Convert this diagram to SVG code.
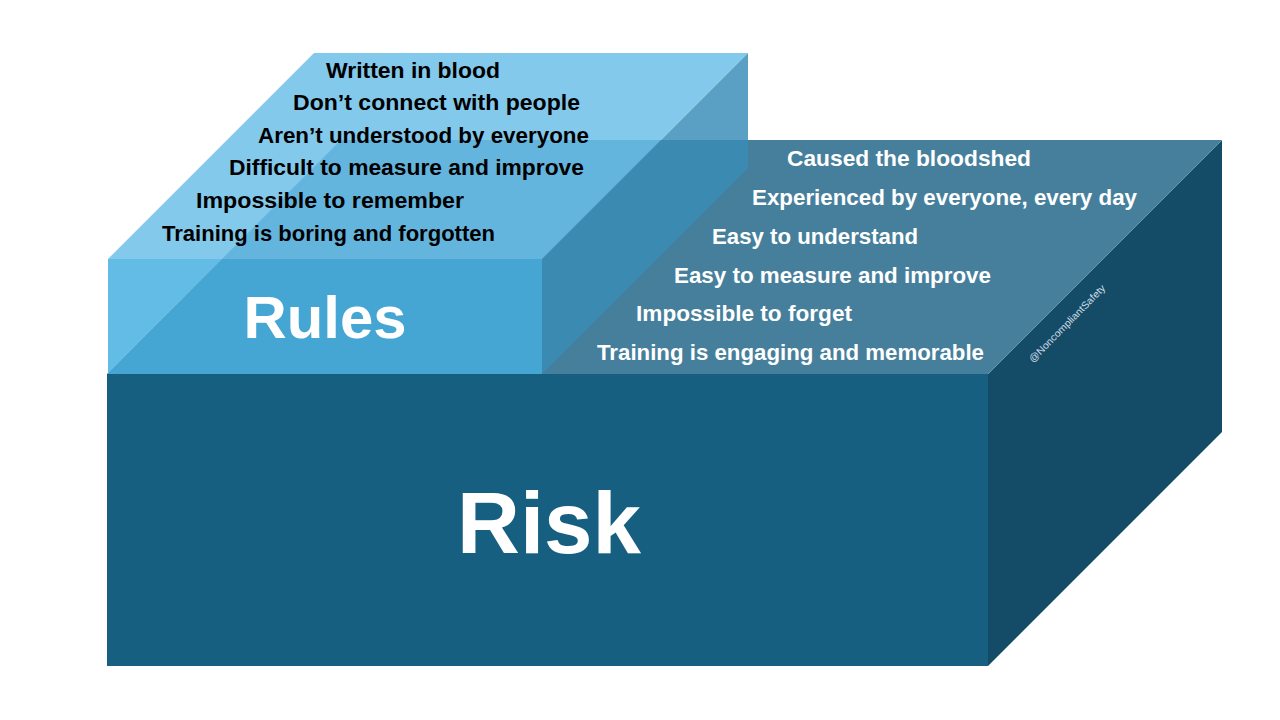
<svg xmlns="http://www.w3.org/2000/svg" width="1280" height="720" viewBox="0 0 1280 720">
<style>
.t{font-family:"Liberation Sans",Arial,sans-serif;font-weight:bold;font-size:22px}
.dk{fill:#000000}
.wt{fill:#ffffff}
.big{font-family:"Liberation Sans",Arial,sans-serif;font-weight:bold;fill:#ffffff}
</style>
<rect width="1280" height="720" fill="#ffffff"/>
<g id="risk">
<polygon points="107,374 988,374 988,666 107,666" fill="#175f80"/>
<polygon points="107,374 341,140 1222,140 988,374" fill="#467f9c"/>
<polygon points="988,374 1222,140 1222,432 988,666" fill="#144c68"/>
<line x1="988" y1="374" x2="1222" y2="140" stroke="#6f9cb4" stroke-width="0.8"/>
<text class="big" x="549" y="553" font-size="87" text-anchor="middle" textLength="184" lengthAdjust="spacingAndGlyphs">Risk</text>
</g>
<g id="rules">
<polygon points="108,259 314,53 748,53 542,259" fill="#83c9eb"/>
<polygon points="341,140 661,140 542,259 222,259" fill="#64b5de"/>
<polygon points="108,259 222,259 108,374" fill="#63bce6"/>
<polygon points="222,259 542,259 542,374 108,374" fill="#45a6d4"/>
<polygon points="661,140 748,53 748,140" fill="#5aa0c4"/>
<polygon points="542,259 661,140 748,140 748,168 542,374" fill="#3a8ab1"/>
<text class="big" x="325" y="338" font-size="60" text-anchor="middle" textLength="163" lengthAdjust="spacingAndGlyphs">Rules</text>
</g>
<g id="rules-text">
<text class="t dk" x="326" y="78" textLength="174" lengthAdjust="spacingAndGlyphs">Written in blood</text>
<text class="t dk" x="293" y="110" textLength="287" lengthAdjust="spacingAndGlyphs">Don’t connect with people</text>
<text class="t dk" x="258" y="143" textLength="331" lengthAdjust="spacingAndGlyphs">Aren’t understood by everyone</text>
<text class="t dk" x="229" y="175" textLength="355" lengthAdjust="spacingAndGlyphs">Difficult to measure and improve</text>
<text class="t dk" x="196" y="208" textLength="268" lengthAdjust="spacingAndGlyphs">Impossible to remember</text>
<text class="t dk" x="162" y="241" textLength="333" lengthAdjust="spacingAndGlyphs">Training is boring and forgotten</text>
</g>
<g id="risk-text">
<text class="t wt" x="787" y="166" textLength="244" lengthAdjust="spacingAndGlyphs">Caused the bloodshed</text>
<text class="t wt" x="752" y="205" textLength="385" lengthAdjust="spacingAndGlyphs">Experienced by everyone, every day</text>
<text class="t wt" x="712" y="244" textLength="206" lengthAdjust="spacingAndGlyphs">Easy to understand</text>
<text class="t wt" x="674" y="283" textLength="317" lengthAdjust="spacingAndGlyphs">Easy to measure and improve</text>
<text class="t wt" x="636" y="321" textLength="216" lengthAdjust="spacingAndGlyphs">Impossible to forget</text>
<text class="t wt" x="597" y="360" textLength="387" lengthAdjust="spacingAndGlyphs">Training is engaging and memorable</text>
</g>
<g id="watermark">
<text x="0" y="0" transform="translate(1033,363) rotate(-45.5)" font-family="Liberation Sans,Arial,sans-serif" font-size="10" fill="#d0dde5" textLength="104" lengthAdjust="spacingAndGlyphs">@NoncompliantSafety</text>
</g>
</svg>
